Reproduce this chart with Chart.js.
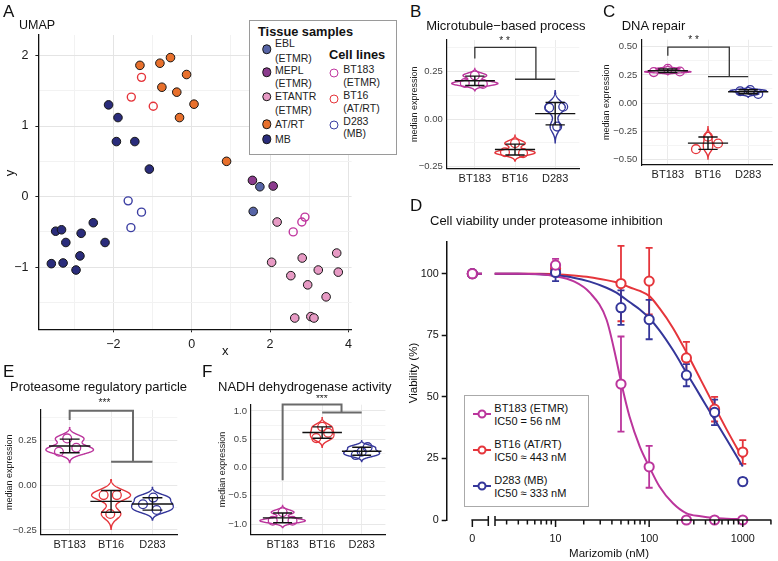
<!DOCTYPE html>
<html>
<head>
<meta charset="utf-8">
<script src="https://cdn.jsdelivr.net/npm/chart.js@4.4.1/dist/chart.umd.min.js"></script>
<style>
  body { margin: 0; width: 778px; height: 561px; position: relative; overflow: hidden; background: #fff;
         font-family: "Liberation Sans", Arial, sans-serif; color: #111; }
  canvas { position: absolute; }
  .t { position: absolute; white-space: nowrap; line-height: 1; transform: translateY(-50%); }
  .panel { font-size: 17px; }
  .title { font-size: 13px; }
  .leg { font-size: 10.5px; color: #222; }
  .box { position: absolute; border: 1px solid #9a9a9a; background: #fff; }
  .dot { position: absolute; border-radius: 50%; box-sizing: border-box; transform: translate(-50%, -50%); }
  .seg { position: absolute; height: 2px; transform: translateY(-50%); }
</style>
</head>
<body>
<canvas id="umap" width="400" height="360" style="left:0;top:0"></canvas>
<canvas id="micro" width="190" height="160" style="left:395px;top:30px"></canvas>
<canvas id="dna" width="188" height="160" style="left:590px;top:30px"></canvas>
<canvas id="prot" width="195" height="166" style="left:0;top:395px"></canvas>
<canvas id="nadh" width="195" height="166" style="left:200px;top:395px"></canvas>
<canvas id="via" width="393" height="371" style="left:385px;top:190px"></canvas>

<div class="t panel" style="left:3px;top:11px">A</div>
<div class="t" style="left:19px;top:25px;font-size:12.5px">UMAP</div>
<div class="t" style="left:222px;top:350px;font-size:13px">x</div>
<div class="t" style="left:6px;top:173px;font-size:13px;transform:translateY(-50%) rotate(-90deg)">y</div>

<div class="box" style="left:249px;top:20px;width:146px;height:133px"></div>
<div class="t leg" style="left:258px;top:32px;font-weight:bold;font-size:12.8px;color:#111">Tissue samples</div>
<div class="t leg" style="left:329px;top:55px;font-weight:bold;font-size:12.8px;color:#111">Cell lines</div>
<div id="legA"></div>

<div class="t panel" style="left:410px;top:11px">B</div>
<div class="t title" style="left:505.8px;top:25px;transform:translate(-50%,-50%)">Microtubule−based process</div>
<div class="t panel" style="left:603px;top:11px">C</div>
<div class="t title" style="left:621.7px;top:25px">DNA repair</div>
<div class="t panel" style="left:410px;top:205px">D</div>
<div class="t title" style="left:430px;top:220px">Cell viability under proteasome inhibition</div>
<div class="t" style="left:414px;top:373px;font-size:11.5px;transform:translate(-50%,-50%) rotate(-90deg)">Viability (%)</div>
<div class="t panel" style="left:3px;top:371px">E</div>
<div class="t title" style="left:10px;top:386px">Proteasome regulatory particle</div>
<div class="t panel" style="left:202px;top:371px">F</div>
<div class="t title" style="left:218px;top:386px">NADH dehydrogenase activity</div>

<div class="box" style="left:464px;top:395px;width:123px;height:110px;border-color:#aaa"></div>
<div id="legD"></div>

<script>
// ---- Panel A: UMAP coordinates
const mbX = [-2.12, -1.88, -1.92, -1.45, -1.08, -3.47, -3.32, -3.21, -2.82, -2.51, -2.21, -3.58, -3.28, -2.85, -2.95];
const mbY = [1.30, 1.12, 0.78, 0.78, 0.39, -0.49, -0.47, -0.65, -0.52, -0.37, -0.65, -0.95, -0.94, -0.84, -1.04];
const atrtX = [-1.32, -0.81, -0.54, -0.13, -0.76, -0.38, 0.06, -0.31, 0.89];
const atrtY = [1.86, 1.89, 1.97, 1.73, 1.55, 1.48, 1.31, 1.12, 0.50];
const eblX = [1.74, 1.57];
const eblY = [0.14, -0.21];
const meplX = [1.55, 2.08];
const meplY = [0.23, 0.15];
const etantrX = [2.18, 2.04, 2.82, 2.53, 2.96, 3.23, 3.43, 3.70, 3.74, 2.63, 3.04, 3.12];
const etantrY = [-0.36, -0.93, -0.87, -1.12, -1.25, -1.04, -1.42, -0.80, -1.07, -1.72, -1.70, -1.72];
const bt183X = [2.89, 2.81, 2.59];
const bt183Y = [-0.29, -0.36, -0.50];
const bt16X = [-1.28, -1.54, -0.98];
const bt16Y = [1.69, 1.41, 1.28];
const d283X = [-1.62, -1.28, -1.55];
const d283Y = [-0.06, -0.22, -0.44];

// ---- Panels B, C, E, F: median expression per replicate
const cellLines = ['BT183', 'BT16', 'D283'];
const microBT183 = [0.23, 0.19, 0.185];
const microBT16 = [-0.128, -0.175, -0.18];
const microD283 = [0.06, 0.065, -0.04];
const dnaBT183 = [0.275, 0.305, 0.28];
const dnaBT16 = [-0.3, -0.41, -0.36];
const dnaD283 = [0.105, 0.115, 0.08];
const protBT183 = [0.259, 0.207, 0.185];
const protBT16 = [-0.056, -0.056, -0.161];
const protD283 = [-0.07, -0.107, -0.139];
const nadhBT183 = [-0.79, -0.94, -0.94];
const nadhBT16 = [0.72, 0.52, 0.615];
const nadhD283 = [0.36, 0.22, 0.28];

// ---- Panel D: viability (%)
const doses = [0, 10, 50, 100, 250, 500, 1000];
const doseTickLabels = ['0', '10', '100', '1000'];
const bt183Via = [100, 103.5, 55.2, 21.6, 0, 0, 0];
const bt183Err = [0, 2.5, 19.3, 8.5, 0, 0, 0];
const bt16Via = [100, 102, 96, 97, 65.8, 45, 27.6];
const bt16Err = [0, 3, 15.3, 13.5, 6.5, 5, 4.8];
const d283Via = [100, 100.5, 86.2, 81.4, 58.8, 43.7, 15.6];
const d283Err = [0, 3.5, 7, 8, 4.5, 5.2, 1.5];
// fitted curves, read at log10(dose)
const fitLogDose = [0.35, 0.6, 0.83, 1.0, 1.19, 1.366, 1.544, 1.65, 1.7, 1.79, 1.9, 2.0, 2.11, 2.254, 2.4, 2.55, 2.7, 2.83, 3.0];
const bt183Fit = [100, 100, 99.8, 99, 97, 92.3, 81.4, 65, 56, 42, 29.8, 21.7, 13.6, 6.8, 2.7, 1.5, 0.8, 0.5, 0.3];
const bt16Fit = [100, 100, 100, 99.8, 99.3, 98.6, 97.4, 96.5, 96, 94.5, 93, 91, 86, 78, 68, 57, 46, 36.6, 25];
const d283Fit = [100, 100, 99.8, 99.3, 98.4, 96.8, 94.3, 92.3, 91, 88.5, 85.5, 82, 77, 69, 59.7, 50.2, 40.7, 32.6, 21.7];

const magenta = '#bb359c', red = '#e5353b', blue = '#34369a';
const lineColors = [magenta, red, blue];
const FONT = '"Liberation Sans", Arial, sans-serif';
Chart.defaults.font.family = FONT;
Chart.defaults.color = '#1a1a1a';

function tickList(min, max, step) {
  const out = [];
  for (let v = Math.ceil(min / step - 1e-9) * step; v <= max + 1e-9; v += step) out.push({value: Math.round(v * 1000) / 1000});
  return out;
}
const isMajor = (v, step) => Math.abs(v / step - Math.round(v / step)) < 1e-6;
const minus = s => s.replace('-', '\u2212');
const mean = a => a.reduce((s, v) => s + v, 0) / a.length;
const sd = a => { const m = mean(a); return Math.sqrt(a.reduce((s, v) => s + (v - m) ** 2, 0) / (a.length - 1)); };
const noUi = {legend: {display: false}, tooltip: {enabled: false}};

// ---------------- Panel A
function pts(xs, ys) { return xs.map((x, i) => ({x, y: ys[i]})); }
function filled(xs, ys, color) {
  return {data: pts(xs, ys), backgroundColor: color, borderColor: '#151515', borderWidth: 1, pointRadius: 4.3, clip: false};
}
function hollow(xs, ys, color) {
  return {data: pts(xs, ys), backgroundColor: 'rgba(255,255,255,0)', borderColor: color, borderWidth: 1.4, pointRadius: 4, clip: false};
}
const umapColors = {ebl: '#5764a6', mepl: '#8b3b8d', etantr: '#e79ac4', atrt: '#e8702c', mb: '#2a2c7b'};

new Chart(document.getElementById('umap'), {
  type: 'scatter',
  data: {datasets: [
    hollow(bt183X, bt183Y, '#c0379f'),
    hollow(bt16X, bt16Y, red),
    hollow(d283X, d283Y, '#3b3ea2'),
    filled(eblX, eblY, umapColors.ebl),
    filled(meplX, meplY, umapColors.mepl),
    filled(etantrX, etantrY, umapColors.etantr),
    filled(atrtX, atrtY, umapColors.atrt),
    filled(mbX, mbY, umapColors.mb)
  ]},
  options: {
    responsive: false, animation: false, events: [],
    layout: {padding: {left: 0, top: 35, right: 48.4, bottom: 0}},
    plugins: noUi,
    scales: {
      x: {type: 'linear', min: -3.91, max: 4.08,
        afterBuildTicks: s => { s.ticks = tickList(-3, 4, 1); },
        afterFit: s => { s.height = 30.7; },
        grid: {color: c => c.tick && isMajor(c.tick.value, 2) ? '#e4e4e4' : '#f2f2f2', tickLength: 3,
               tickColor: c => c.tick && isMajor(c.tick.value, 2) ? '#222' : 'rgba(0,0,0,0)'},
        border: {color: '#111', width: 1.3},
        ticks: {padding: 5, font: {size: 12.5}, maxRotation: 0, autoSkip: false,
                callback: v => isMajor(v, 2) ? minus(String(v)) : ''}},
      y: {min: -1.88, max: 2.29,
        afterBuildTicks: s => { s.ticks = tickList(-1.5, 2, 0.5); },
        afterFit: s => { s.width = 38.4; },
        grid: {color: c => c.tick && isMajor(c.tick.value, 1) ? '#e4e4e4' : '#f2f2f2', tickLength: 3,
               tickColor: c => c.tick && isMajor(c.tick.value, 1) ? '#222' : 'rgba(0,0,0,0)'},
        border: {color: '#111', width: 1.3},
        ticks: {padding: 7, font: {size: 12.5}, autoSkip: false,
                callback: v => isMajor(v, 1) ? minus(String(v)) : ''}}
    }
  }
});

// legend of panel A
(function () {
  const host = document.getElementById('legA');
  const rows = [
    {c: umapColors.ebl, cy: 49.3, lines: [['EBL', 43.3], ['(ETMR)', 57.8]], x: 266.7, tx: 275, fill: true},
    {c: umapColors.mepl, cy: 72.3, lines: [['MEPL', 69.5], ['(ETMR)', 83]], x: 266.7, tx: 275, fill: true},
    {c: umapColors.etantr, cy: 96.7, lines: [['ETANTR', 96.2], ['(ETMR)', 109.5]], x: 266.7, tx: 275, fill: true},
    {c: umapColors.atrt, cy: 124, lines: [['AT/RT', 124]], x: 266.7, tx: 275, fill: true},
    {c: umapColors.mb, cy: 139.3, lines: [['MB', 139.3]], x: 266.7, tx: 275, fill: true},
    {c: '#c0379f', cy: 73.3, lines: [['BT183', 69], ['(ETMR)', 81.7]], x: 334.3, tx: 343.3},
    {c: red, cy: 99.3, lines: [['BT16', 95], ['(AT/RT)', 107.5]], x: 334.3, tx: 343.3},
    {c: '#3b3ea2', cy: 125, lines: [['D283', 120.7], ['(MB)', 133.3]], x: 334.3, tx: 343.3}
  ];
  let html = '';
  rows.forEach(r => {
    html += r.fill
      ? `<div class="dot" style="left:${r.x}px;top:${r.cy}px;width:9.5px;height:9.5px;background:${r.c};border:1px solid #151515"></div>`
      : `<div class="dot" style="left:${r.x}px;top:${r.cy}px;width:9px;height:9px;border:1.4px solid ${r.c}"></div>`;
    r.lines.forEach(([txt, y]) => { html += `<div class="t leg" style="left:${r.tx}px;top:${y}px">${txt}</div>`; });
  });
  host.innerHTML = html;
})();

// ---------------- Violin panels
function kde(vals) {
  const n = vals.length, s = [...vals].sort((a, b) => a - b);
  const q = p => { const h = (n - 1) * p, lo = Math.floor(h); const nx = lo + 1 < n ? s[lo + 1] : s[lo]; return s[lo] + (h - lo) * (nx - s[lo]); };
  const spread = Math.min(sd(vals), (q(0.75) - q(0.25)) / 1.34) || sd(vals);
  const bw = 0.9 * spread * Math.pow(n, -0.2);
  const a = s[0] - 3 * bw, b = s[n - 1] + 3 * bw, out = [];
  for (let k = 0; k <= 200; k++) {
    const v = a + (b - a) * k / 200;
    let f = 0;
    vals.forEach(u => { f += Math.exp(-0.5 * ((v - u) / bw) ** 2); });
    out.push([v, f / (n * bw * Math.sqrt(2 * Math.PI))]);
  }
  return out;
}

function makeViolinPlugin(groups, spec) {
  return {
    id: 'violin',
    beforeDatasetsDraw(chart) {
      const {ctx, scales: {x, y}} = chart;
      const dens = groups.map(kde);
      const peak = Math.max(...dens.map(d => Math.max(...d.map(p => p[1]))));
      dens.forEach((d, i) => {
        ctx.save();
        ctx.beginPath();
        d.forEach(([v, f], k) => {
          const px = x.getPixelForValue(i + 1 - f / peak * spec.vw / 2), py = y.getPixelForValue(v);
          if (k) ctx.lineTo(px, py); else ctx.moveTo(px, py);
        });
        for (let k = d.length - 1; k >= 0; k--) {
          const [v, f] = d[k];
          ctx.lineTo(x.getPixelForValue(i + 1 + f / peak * spec.vw / 2), y.getPixelForValue(v));
        }
        ctx.closePath();
        ctx.fillStyle = '#fff';
        ctx.fill();
        ctx.strokeStyle = lineColors[i];
        ctx.lineWidth = 1.4;
        ctx.stroke();
        ctx.restore();
      });
    },
    afterDatasetsDraw(chart) {
      const {ctx, scales: {x, y}} = chart;
      const X = v => x.getPixelForValue(v), Y = v => y.getPixelForValue(v);
      ctx.save();
      ctx.strokeStyle = '#111';
      ctx.lineWidth = 1.4;
      ctx.beginPath();
      groups.forEach((vals, i) => {
        const m = mean(vals), s = sd(vals), c = i + 1;
        ctx.moveTo(X(c - 0.5), Y(m)); ctx.lineTo(X(c + 0.5), Y(m));
        ctx.moveTo(X(c), Y(m - s)); ctx.lineTo(X(c), Y(m + s));
        ctx.moveTo(X(c - 0.24), Y(m - s)); ctx.lineTo(X(c + 0.24), Y(m - s));
        ctx.moveTo(X(c - 0.24), Y(m + s)); ctx.lineTo(X(c + 0.24), Y(m + s));
      });
      ctx.stroke();
      const b = spec.bracket;
      ctx.strokeStyle = b.color;
      ctx.lineWidth = b.width;
      ctx.beginPath();
      ctx.moveTo(X(1), Y(b.leftLow)); ctx.lineTo(X(1), Y(b.top));
      ctx.lineTo(X(b.mid), Y(b.top)); ctx.lineTo(X(b.mid), Y(b.rightLow));
      ctx.moveTo(X(2), Y(b.rightLow)); ctx.lineTo(X(3), Y(b.rightLow));
      ctx.stroke();
      ctx.fillStyle = '#222';
      ctx.font = '10px ' + FONT;
      ctx.textAlign = 'center';
      ctx.textBaseline = 'middle';
      ctx.fillText(b.stars, X(b.starX), Y(b.starY));
      ctx.restore();
    }
  };
}

function violinChart(id, groups, jitter, spec) {
  const datasets = groups.map((vals, i) => ({
    data: vals.map((v, k) => ({x: i + 1 + jitter[i][k], y: v})),
    pointRadius: 4.4, borderColor: lineColors[i], backgroundColor: 'rgba(0,0,0,0)', borderWidth: 1.3, clip: false
  }));
  return new Chart(document.getElementById(id), {
    type: 'scatter',
    data: {datasets},
    options: {
      responsive: false, animation: false, events: [],
      layout: {padding: spec.pad},
      plugins: noUi,
      scales: {
        x: {type: 'linear', min: spec.xMin, max: spec.xMax,
          afterBuildTicks: s => { s.ticks = [1, 2, 3].map(v => ({value: v})); },
          afterFit: s => { s.height = spec.xH; },
          grid: {color: '#ebebeb', drawTicks: false},
          border: {color: '#111', width: 1.2},
          ticks: {padding: spec.xPad, font: {size: 11}, color: '#222', maxRotation: 0, autoSkip: false,
                  callback: v => cellLines[Math.round(v) - 1]}},
        y: {min: spec.yMin, max: spec.yMax,
          afterBuildTicks: s => { s.ticks = tickList(spec.yMin, spec.yMax, spec.step / 2); },
          afterFit: s => { s.width = spec.yW; },
          grid: {color: c => c.tick && isMajor(c.tick.value, spec.step) ? '#e8e8e8' : '#f4f4f4', drawTicks: false},
          border: {color: '#111', width: 1.2},
          ticks: {padding: 4, font: {size: 9.5}, color: '#444', autoSkip: false,
                  callback: v => isMajor(v, spec.step) ? minus(v.toFixed(spec.dec)) : ''},
          title: {display: true, text: 'median expression', font: {size: 9}, color: '#222', padding: 0}}
      }
    },
    plugins: [makeViolinPlugin(groups, spec)]
  });
}

violinChart('micro', [microBT183, microBT16, microD283],
  [[0, -0.25, 0.2], [0, -0.25, 0.2], [-0.15, 0.2, 0.05]],
  {pad: {left: 14.6, top: 10, right: 4.6, bottom: 0}, yW: 37.1, xH: 21.7, xPad: 4, xMin: 0.3, xMax: 3.6,
   yMin: -0.26, yMax: 0.417, step: 0.25, dec: 2, vw: 1.15,
   bracket: {leftLow: 0.32, top: 0.378, mid: 2.52, rightLow: 0.21, stars: '* *', starX: 1.74, starY: 0.41, color: '#333', width: 1.3}});

violinChart('dna', [dnaBT183, dnaBT16, dnaD283],
  [[-0.35, 0, 0.3], [0, -0.3, 0.25], [-0.2, 0.05, 0.25]],
  {pad: {left: 11.3, top: 5, right: 5.5, bottom: 0}, yW: 40, xH: 25, xPad: 3, xMin: 0.34, xMax: 3.6,
   yMin: -0.551, yMax: 0.563, step: 0.25, dec: 2, vw: 1.15,
   bracket: {leftLow: 0.42, top: 0.497, mid: 2.53, rightLow: 0.235, stars: '* *', starX: 1.64, starY: 0.555, color: '#333', width: 1.3}});

violinChart('prot', [protBT183, protBT16, protD283],
  [[-0.06, 0.16, -0.26], [-0.18, 0.14, -0.02], [0.02, -0.23, 0.1]],
  {pad: {left: 4.6, top: 15, right: 17.7, bottom: 0}, yW: 36.1, xH: 26.7, xPad: 4, xMin: 0.3, xMax: 3.6,
   yMin: -0.274, yMax: 0.417, step: 0.25, dec: 2, vw: 1.15,
   bracket: {leftLow: 0.361, top: 0.413, mid: 2.53, rightLow: 0.13, stars: '***', starX: 1.84, starY: 0.452, color: '#6a6a6a', width: 2}});

violinChart('nadh', [nadhBT183, nadhBT16, nadhD283],
  [[0, -0.25, 0.25], [0, -0.15, 0.15], [0.15, -0.15, 0]],
  {pad: {left: 17.3, top: 9.3, right: 9.6, bottom: 0}, yW: 33.7, xH: 26.7, xPad: 4, xMin: 0.2, xMax: 3.6,
   yMin: -1.18, yMax: 1.11, step: 0.5, dec: 1, vw: 1.15,
   bracket: {leftLow: -0.224, top: 1.113, mid: 2.49, rightLow: 0.97, stars: '***', starX: 1.99, starY: 1.2, color: '#6a6a6a', width: 2}});

// ---------------- Panel D
const zeroPos = 0.111;         // where dose 0 sits on the broken log axis
const breakLeft = 0.2815, breakRight = 0.353;
const dosePos = d => d === 0 ? zeroPos : Math.log10(d);

function fitSeries(fit, color) {
  const data = [{x: zeroPos, y: fit[0]}, {x: 0.214, y: fit[0]}, {x: 0.28, y: null}]
    .concat(fitLogDose.map((l, i) => ({x: l, y: fit[i]})));
  return {data, showLine: true, borderColor: color, borderWidth: 2, pointRadius: 0, spanGaps: false,
          cubicInterpolationMode: 'monotone', clip: false};
}
function doseSeries(vals, color) {
  return {data: doses.map((d, i) => ({x: dosePos(d), y: vals[i]})), showLine: false, pointRadius: 4.6,
          borderWidth: 2, borderColor: color, backgroundColor: '#fff', clip: false};
}
const errSets = [[bt16Via, bt16Err, red], [d283Via, d283Err, blue], [bt183Via, bt183Err, magenta]];

const doseAxisPlugin = {
  id: 'doseAxis',
  beforeDatasetsDraw(chart) {
    const {ctx, scales: {x, y}} = chart;
    ctx.save();
    ctx.lineWidth = 1.8;
    errSets.forEach(([vals, errs, color]) => {
      ctx.strokeStyle = color;
      ctx.beginPath();
      doses.forEach((d, i) => {
        if (!errs[i]) return;
        const px = x.getPixelForValue(dosePos(d));
        const top = y.getPixelForValue(vals[i] + errs[i]), bot = y.getPixelForValue(vals[i] - errs[i]);
        ctx.moveTo(px, top); ctx.lineTo(px, bot);
        ctx.moveTo(px - 3.5, top); ctx.lineTo(px + 3.5, top);
        ctx.moveTo(px - 3.5, bot); ctx.lineTo(px + 3.5, bot);
      });
      ctx.stroke();
    });
    ctx.restore();
  },
  afterDraw(chart) {
    const {ctx, scales: {x, y}} = chart;
    const y0 = y.getPixelForValue(0);
    ctx.save();
    ctx.strokeStyle = '#111';
    ctx.lineWidth = 1.5;
    ctx.beginPath();
    ctx.moveTo(x.getPixelForValue(zeroPos) - 1, y0); ctx.lineTo(x.getPixelForValue(breakLeft), y0);
    ctx.moveTo(x.getPixelForValue(breakRight), y0); ctx.lineTo(x.right, y0);
    [breakLeft, breakRight].forEach(v => { const px = x.getPixelForValue(v); ctx.moveTo(px, y0 - 4); ctx.lineTo(px, y0 + 6); });
    [zeroPos, 1, 2, 3].forEach(v => { const px = x.getPixelForValue(v); ctx.moveTo(px, y0); ctx.lineTo(px, y0 + 7); });
    [1, 10, 100].forEach(dec => {
      for (let m = 2; m <= 9; m++) {
        const lv = Math.log10(m * dec);
        if (lv < breakRight) continue;
        const px = x.getPixelForValue(lv);
        ctx.moveTo(px, y0); ctx.lineTo(px, y0 + 4.5);
      }
    });
    const endPx = x.getPixelForValue(Math.log10(2000));
    ctx.moveTo(endPx, y0); ctx.lineTo(endPx, y0 + 4.5);
    ctx.stroke();
    ctx.restore();
  }
};

new Chart(document.getElementById('via'), {
  type: 'scatter',
  data: {datasets: [
    doseSeries(bt183Via, magenta),
    doseSeries(d283Via, blue),
    doseSeries(bt16Via, red),
    fitSeries(bt183Fit, magenta),
    fitSeries(d283Fit, blue),
    fitSeries(bt16Fit, red)
  ]},
  options: {
    responsive: false, animation: false, events: [],
    layout: {padding: {left: 22, top: 51.7, right: 6.3, bottom: 0}},
    plugins: noUi,
    scales: {
      x: {type: 'linear', min: -0.163, max: 3.306,
        afterBuildTicks: s => { s.ticks = [zeroPos, 1, 2, 3].map(v => ({value: v})); },
        afterFit: s => { s.height = 41; },
        grid: {display: false, drawTicks: false},
        border: {display: false},
        ticks: {padding: 13, font: {size: 10.8}, color: '#111', maxRotation: 0, autoSkip: false,
                callback: (v, i) => doseTickLabels[i]},
        title: {display: true, text: 'Marizomib (nM)', font: {size: 11.5}, color: '#111', padding: 0}},
      y: {min: 0, max: 113,
        afterBuildTicks: s => { s.ticks = [0, 25, 50, 75, 100].map(v => ({value: v})); },
        afterFit: s => { s.width = 39.7; },
        grid: {drawOnChartArea: false, tickLength: 5, tickColor: '#111', tickWidth: 1.5},
        border: {color: '#111', width: 1.5},
        ticks: {padding: 3, font: {size: 10.8}, color: '#111', autoSkip: false}}
    }
  },
  plugins: [doseAxisPlugin]
});

// legend of panel D
(function () {
  const host = document.getElementById('legD');
  const rows = [
    [magenta, 413.7, 'BT183 (ETMR)', 'IC50 = 56 nM'],
    [red, 450, 'BT16 (AT/RT)', 'IC50 \u2248 443 nM'],
    [blue, 485.5, 'D283 (MB)', 'IC50 \u2248 333 nM']
  ];
  let html = '';
  rows.forEach(([c, cy, l1, l2]) => {
    html += `<div class="seg" style="left:472.5px;top:${cy}px;width:18px;background:${c}"></div>`;
    html += `<div class="dot" style="left:481.7px;top:${cy}px;width:9px;height:9px;border:2px solid ${c};background:#fff"></div>`;
    html += `<div class="t" style="left:494.3px;top:${cy - 6}px;font-size:11px">${l1}</div>`;
    html += `<div class="t" style="left:494.3px;top:${cy + 7}px;font-size:11px">${l2}</div>`;
  });
  host.innerHTML = html;
})();
</script>
</body>
</html>
